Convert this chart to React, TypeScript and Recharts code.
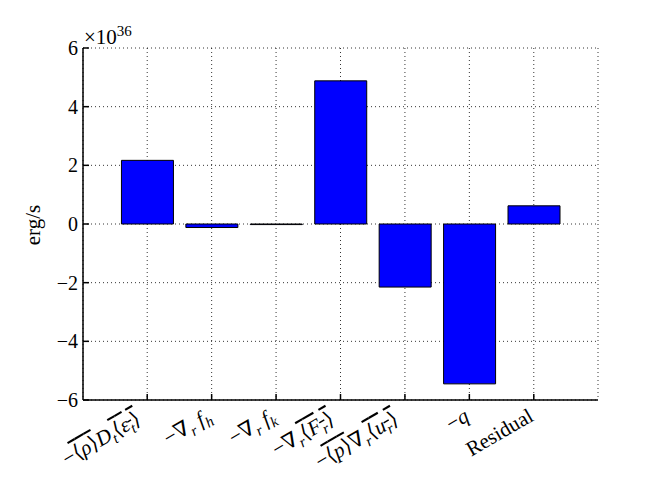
import React from "react";
import { BarChart, Bar, XAxis, YAxis, CartesianGrid } from "recharts";

// energy budget terms, values in units of 1e36 erg/s
const categories = ["eps", "fh", "fk", "Fr", "pu", "q", "res"];
const values = [2.17, -0.12, -0.02, 4.88, -2.15, -5.45, 0.62];
const yTicks = [-6, -4, -2, 0, 2, 4, 6];

type Seg = { t: string; i?: boolean; sub?: boolean; over?: boolean };

// tick labels as little math pieces (italic / subscript / overline)
const tickLabels: Seg[][] = [
  [
    { t: "−" },
    { t: "⟨", over: true },
    { t: "ρ", i: true, over: true },
    { t: "⟩", over: true },
    { t: "D", i: true },
    { t: "t", i: true, sub: true },
    { t: "⟨", over: true },
    { t: "ε", i: true, over: true },
    { t: "t", i: true, sub: true, over: true },
    { t: "⟩", over: true },
  ],
  [{ t: "−∇" }, { t: "r", i: true, sub: true }, { t: " f", i: true }, { t: "h", i: true, sub: true }],
  [{ t: "−∇" }, { t: "r", i: true, sub: true }, { t: " f", i: true }, { t: "k", i: true, sub: true }],
  [
    { t: "−∇" },
    { t: "r", i: true, sub: true },
    { t: "⟨", over: true },
    { t: "F", i: true, over: true },
    { t: "r", i: true, sub: true, over: true },
    { t: "⟩", over: true },
  ],
  [
    { t: "−" },
    { t: "⟨", over: true },
    { t: "p", i: true, over: true },
    { t: "⟩", over: true },
    { t: "∇" },
    { t: "r", i: true, sub: true },
    { t: "⟨", over: true },
    { t: "u", i: true, over: true },
    { t: "r", i: true, sub: true, over: true },
    { t: "⟩", over: true },
  ],
  [{ t: "−" }, { t: "q", i: true }],
  [{ t: "Residual" }],
];

const data = categories.map((c, i) => ({ name: c, value: values[i] }));

const FONT = "'Liberation Serif', 'DejaVu Serif', serif";

function mathSpans(segs: Seg[]) {
  let shifted = 0;
  return segs.map((s, k) => {
    const target = s.sub ? 5 : 0;
    const dy = target - shifted;
    shifted = target;
    return (
      <tspan
        key={k}
        dy={dy}
        fontStyle={s.i ? "italic" : "normal"}
        fontSize={s.sub ? 15 : 21}
        style={s.over ? { textDecoration: "overline" } : undefined}
      >
        {s.t}
      </tspan>
    );
  });
}

const BottomTick = (props: any) => {
  const { x, y, payload } = props;
  const segs = tickLabels[payload.index] ?? [{ t: String(payload.value) }];
  // taller labels (with bars over them) sit a little further left, like mpl's bbox alignment
  const tall = segs.some((s) => s.over);
  const dx = tall ? -5 : 1;
  const dy = tall ? 23 : 20;
  return (
    <g>
      <line x1={x} y1={y} x2={x} y2={y - 6} stroke="#000" strokeWidth={1.5} />
      <text
        transform={`translate(${x + dx},${y + dy}) rotate(-30)`}
        textAnchor="end"
        fontFamily={FONT}
        fontSize={21}
        fill="#000"
      >
        {mathSpans(segs)}
      </text>
    </g>
  );
};

const TopTick = (props: any) => {
  const { x, y } = props;
  return <line x1={x} y1={y} x2={x} y2={y + 6} stroke="#000" strokeWidth={1.5} />;
};

const LeftTick = (props: any) => {
  const { x, y, payload } = props;
  const v = payload.value as number;
  return (
    <g>
      <line x1={x} y1={y} x2={x + 6} y2={y} stroke="#000" strokeWidth={1.5} />
      <text x={x - 5} y={y + 7} textAnchor="end" fontFamily={FONT} fontSize={20} fill="#000">
        {v < 0 ? `−${Math.abs(v)}` : v}
      </text>
    </g>
  );
};

const RightTick = (props: any) => {
  const { x, y } = props;
  return <line x1={x} y1={y} x2={x - 6} y2={y} stroke="#000" strokeWidth={1.5} />;
};

export default function App() {
  const axisLine = { stroke: "#000", strokeWidth: 1.5 };
  return (
    <div style={{ position: "absolute", left: 0, top: 0, background: "#fff" }}>
      <BarChart
        width={664}
        height={501}
        data={data}
        margin={{ top: 48, right: 66, bottom: 41, left: 33 }}
        barCategoryGap="10%"
      >
        <CartesianGrid
          xAxisId="b"
          yAxisId="l"
          stroke="#000"
          strokeDasharray="1 3"
          strokeWidth={0.8}
        />
        <XAxis
          xAxisId="b"
          dataKey="name"
          height={60}
          padding={{ left: 32, right: 32 }}
          interval={0}
          tickSize={0}
          tickMargin={0}
          tickLine={false}
          axisLine={axisLine}
          tick={<BottomTick />}
        />
        <XAxis
          xAxisId="t"
          dataKey="name"
          orientation="top"
          height={0}
          padding={{ left: 32, right: 32 }}
          interval={0}
          tickSize={0}
          tickMargin={0}
          tickLine={false}
          axisLine={axisLine}
          tick={<TopTick />}
        />
        <YAxis
          yAxisId="l"
          width={50}
          domain={[-6, 6]}
          ticks={yTicks}
          type="number"
          tickSize={0}
          tickMargin={0}
          tickLine={false}
          axisLine={axisLine}
          tick={<LeftTick />}
        />
        <YAxis
          yAxisId="r"
          orientation="right"
          width={0}
          domain={[-6, 6]}
          ticks={yTicks}
          type="number"
          tickSize={0}
          tickMargin={0}
          tickLine={false}
          axisLine={axisLine}
          tick={<RightTick />}
        />
        <Bar
          xAxisId="b"
          yAxisId="l"
          dataKey="value"
          fill="#0000ff"
          stroke="#000"
          strokeWidth={1}
          isAnimationActive={false}
        />
        <text x={84} y={44} fontFamily={FONT} fontSize={21} fill="#000">
          ×10
          <tspan dy={-8} fontSize={15}>
            36
          </tspan>
        </text>
        <text
          transform="translate(40,225) rotate(-90)"
          textAnchor="middle"
          fontFamily={FONT}
          fontSize={21}
          fill="#000"
        >
          erg/s
        </text>
      </BarChart>
    </div>
  );
}
